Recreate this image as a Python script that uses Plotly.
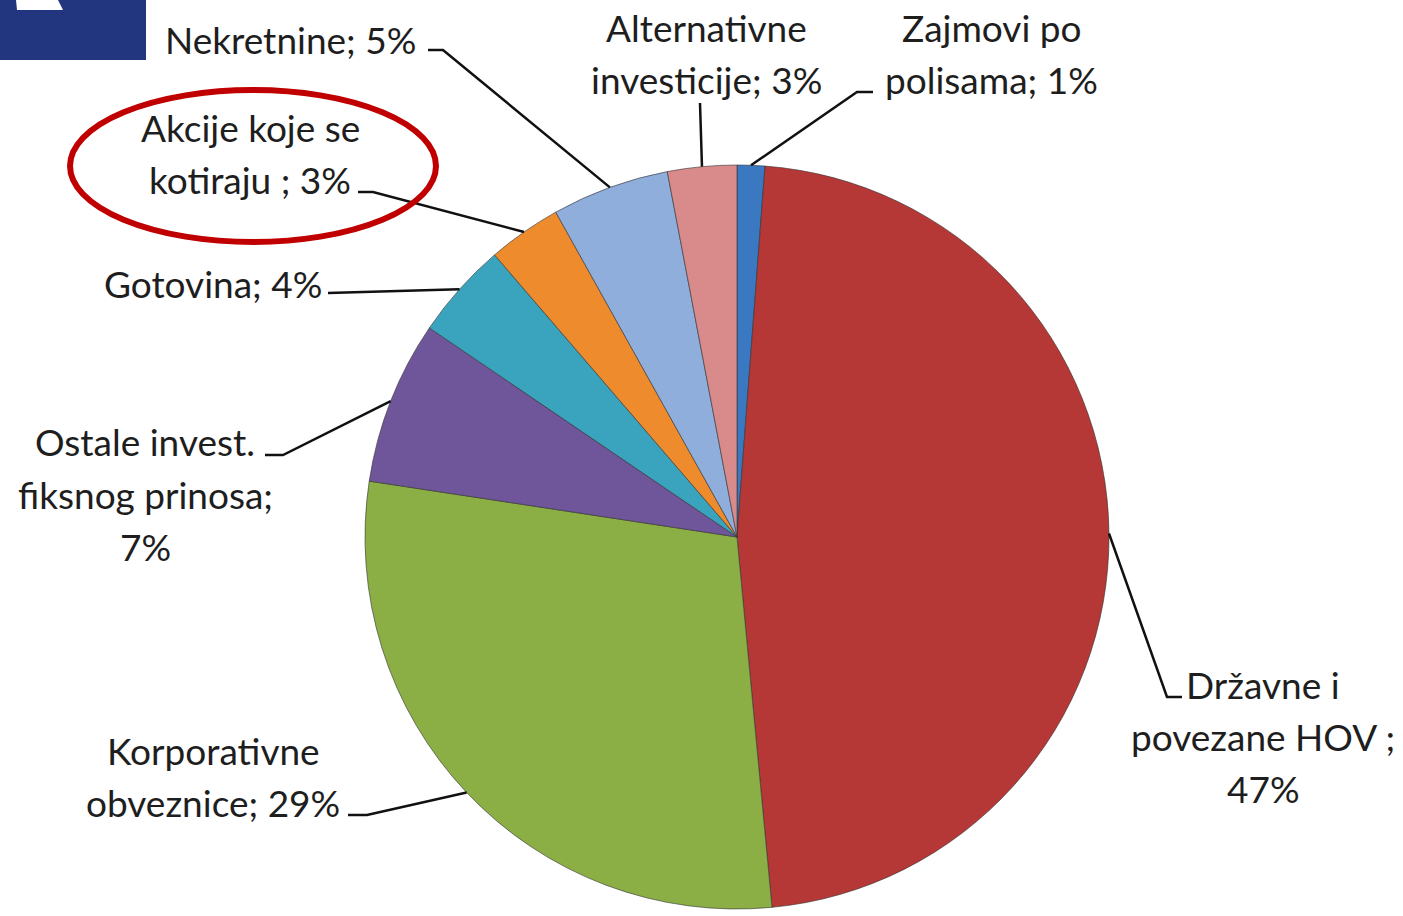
import math
import plotly.graph_objects as go

# ---- data ----
categories = ["Zajmovi po polisama", "Državne i povezane HOV", "Korporativne obveznice",
              "Ostale invest. fiksnog prinosa", "Gotovina", "Akcije koje se kotiraju",
              "Nekretnine", "Alternativne investicije"]
values = [1.2, 47.3, 28.9, 7.1, 4.2, 3.2, 5.1, 3.0]
label_lines = [
    ["Zajmovi po", "polisama; {p}%"],
    ["Državne i", "povezane HOV ;", "{p}%"],
    ["Korporativne", "obveznice; {p}%"],
    ["Ostale invest.", "fiksnog prinosa;", "{p}%"],
    ["Gotovina; {p}%"],
    ["Akcije koje se", "kotiraju ; {p}%"],
    ["Nekretnine; {p}%"],
    ["Alternativne", "investicije; {p}%"],
]
colors = ["#3B78C2", "#B53836", "#8BAE45", "#6F559A", "#3AA3BD", "#EE8B2D", "#8FAEDC", "#D98B8B"]

# ---- layout constants (pixels) ----
W, H = 1403, 916
CX, CY, R = 737, 537, 372
LINE_H = 52

# label placement: (x, y of first line centre, xanchor)
label_pos = [
    (991, 28, "center"),
    (1263, 684, "center"),
    (213, 750, "center"),
    (145, 442, "center"),
    (324, 283, "right"),
    (250, 127, "center"),
    (418, 40, "right"),
    (707, 28, "center"),
]
leader_knees = [
    [(873, 92), (857, 92)],
    [(1182, 697), (1167, 697)],
    [(348, 815), (367, 815)],
    [(265, 455), (283, 455)],
    [(328, 293)],
    [(358, 192), (373, 192)],
    [(428, 50), (443, 50)],
    [(700, 103)],
]

def px(x):
    return x / W

def py(y):
    return 1 - y / H

fig = go.Figure()
fig.add_trace(go.Pie(
    labels=categories, values=values, sort=False, direction="clockwise", rotation=0,
    marker=dict(colors=colors, line=dict(color="rgba(50,50,50,0.6)", width=1)),
    textinfo="none", hoverinfo="label+percent", showlegend=False,
    domain=dict(x=[px(CX - R), px(CX + R)], y=[py(CY + R), py(CY - R)]),
))

total = sum(values)
cum = 0.0
shapes = []
annotations = []
font = dict(family="Lato, Open Sans, sans-serif", size=37, color="#1e1e1e")
for i, v in enumerate(values):
    mid = (cum + v / 2) / total * 2 * math.pi
    cum += v
    ex = CX + R * math.sin(mid)
    ey = CY - R * math.cos(mid)
    pts = leader_knees[i] + [(ex, ey)]
    path = "M " + " L ".join(f"{px(x):.5f},{py(y):.5f}" for x, y in pts)
    shapes.append(dict(type="path", xref="paper", yref="paper", path=path,
                       line=dict(color="#111111", width=2.5)))
    lx, ly, anchor = label_pos[i]
    pct = round(v / total * 100)
    for k, line in enumerate(label_lines[i]):
        annotations.append(dict(
            x=px(lx), y=py(ly + k * LINE_H), xref="paper", yref="paper",
            xanchor=anchor, yanchor="middle",
            text=line.format(p=pct), showarrow=False, align="center", font=font,
        ))

# decorations: corner badge and red highlight ellipse
shapes.append(dict(type="rect", xref="paper", yref="paper", x0=0, x1=px(146), y0=py(60), y1=1,
                   fillcolor="#21367E", line=dict(width=0), layer="above"))
shapes.append(dict(type="path", xref="paper", yref="paper",
                   path=f"M {px(16)},{py(0)} L {px(58)},{py(0)} L {px(63)},{py(10)} L {px(17)},{py(10)} Z",
                   fillcolor="white", line=dict(width=0), layer="above"))
shapes.append(dict(type="circle", xref="paper", yref="paper",
                   x0=px(70), x1=px(436), y0=py(242), y1=py(90),
                   line=dict(color="#C00000", width=6)))

fig.update_layout(
    width=W, height=H, margin=dict(l=0, r=0, t=0, b=0),
    paper_bgcolor="white", plot_bgcolor="white",
    shapes=shapes, annotations=annotations,
)
fig.write_html("out.html", config={"displayModeBar": False},
               post_script="document.body.style.margin='0';document.body.style.overflow='hidden';")
